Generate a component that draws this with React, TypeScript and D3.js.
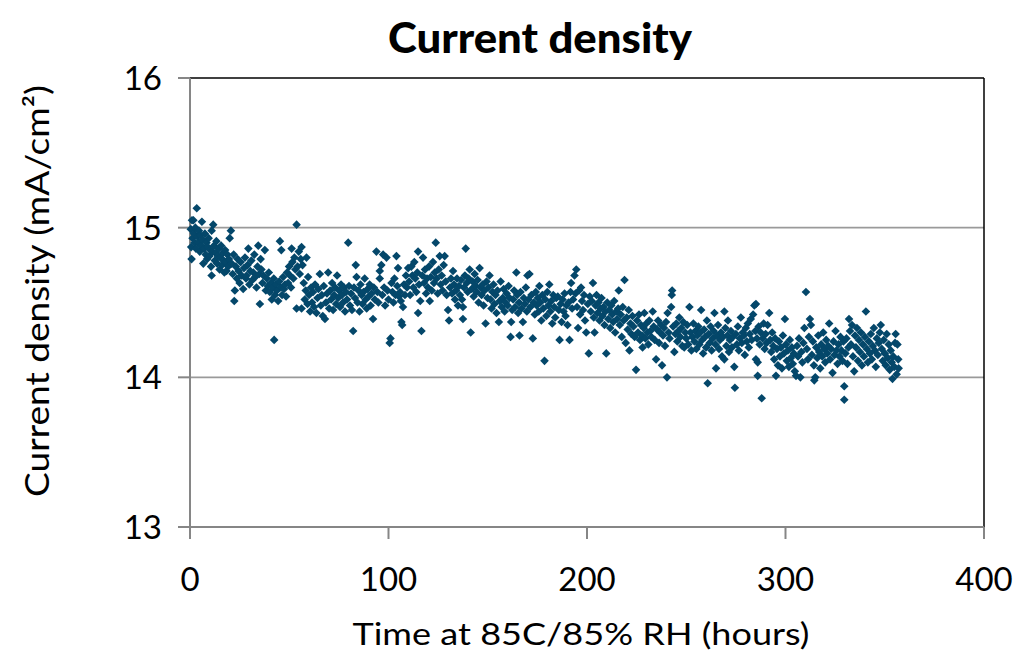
import React from "react";
import * as d3 from "d3";

// [time at 85C/85% RH (hours), current density (mA/cm²)]
const hours0to20: [number, number][] = [
  [0.4,14.99],[0.6,14.87],[0.8,14.79],[1.0,15.05],[1.3,14.93],[1.7,15.05],[2.0,14.96],[2.3,14.90],[2.7,15.00],[3.0,14.86],
  [3.4,15.13],[3.8,14.94],[4.1,14.90],[4.5,14.98],[4.9,14.84],[5.2,14.95],[5.6,14.88],[6.0,15.04],[6.4,14.92],[6.7,14.76],
  [7.1,14.86],[7.5,14.96],[7.9,14.82],[8.3,14.90],[8.6,14.79],[9.0,14.87],[9.4,14.93],[9.8,14.81],[10.2,14.85],[10.6,14.74],
  [10.9,14.98],[11.3,14.84],[11.7,15.02],[12.1,14.88],[12.5,14.78],[12.9,14.83],[13.3,14.91],[13.7,14.76],[14.1,14.81],[14.5,14.86],
  [14.9,14.72],[15.3,14.80],[15.7,14.88],[16.1,14.75],[16.5,14.83],[16.9,14.78],[17.3,14.70],[17.7,14.85],[18.1,14.77],[18.4,14.71],
  [18.8,14.82],[19.2,14.74],[19.6,14.79],[20.0,14.93],[20.6,14.98],[10.9,14.68],
];
const hours21to40: [number, number][] = [
  [21.0,14.76],[21.5,14.69],[22.0,14.82],[22.3,14.51],[22.6,14.58],[23.1,14.74],[23.6,14.66],[24.0,14.79],[24.5,14.71],[25.0,14.63],
  [25.5,14.77],[26.0,14.68],[26.8,14.59],[27.2,14.73],[27.7,14.80],[28.2,14.66],[28.5,14.68],[29.0,14.75],[29.4,14.86],[29.9,14.62],
  [30.4,14.71],[30.9,14.78],[31.4,14.65],[31.9,14.70],[32.4,14.82],[32.9,14.67],[33.5,14.60],[34.0,14.74],[34.4,14.88],[34.9,14.69],
  [35.2,14.49],[35.6,14.79],[36.0,14.72],[36.5,14.63],[37.0,14.68],[37.7,14.85],[38.2,14.58],[38.7,14.66],[39.2,14.61],[39.7,14.70],
];
const hours40to57: [number, number][] = [
  [40.2,14.57],[40.7,14.63],[41.2,14.52],[41.7,14.60],[42.2,14.66],[42.4,14.25],[42.8,14.55],[43.3,14.62],[43.8,14.58],[44.4,14.51],
  [44.9,14.64],[45.3,14.91],[45.8,14.60],[46.0,14.85],[46.4,14.55],[46.9,14.67],[47.4,14.59],[47.9,14.62],[48.4,14.54],[48.9,14.70],
  [49.4,14.63],[49.9,14.74],[50.4,14.68],[50.9,14.60],[51.2,14.86],[51.6,14.77],[52.1,14.66],[52.6,14.80],[53.1,14.72],[53.7,15.02],
  [53.7,14.46],[54.2,14.74],[54.8,14.84],[55.3,14.69],[55.8,14.79],[56.2,14.87],[56.2,14.46],[56.7,14.75],[57.3,14.63],
];
const hours57to80: [number, number][] = [
  [57.8,14.52],[58.3,14.58],[58.7,14.80],[59.2,14.49],[59.5,14.67],[60.0,14.55],[60.5,14.44],[61.0,14.60],[61.5,14.50],[62.0,14.57],
  [62.5,14.47],[63.0,14.62],[63.7,14.43],[64.2,14.53],[64.7,14.59],[65.4,14.69],[65.9,14.48],[66.4,14.55],[66.9,14.41],[67.4,14.61],
  [68.0,14.39],[68.5,14.50],[69.0,14.56],[69.6,14.70],[70.1,14.46],[70.6,14.58],[71.1,14.52],[71.6,14.63],[72.1,14.45],[72.6,14.55],
  [73.1,14.60],[73.6,14.49],[74.1,14.68],[74.6,14.53],[75.1,14.58],[75.6,14.47],[76.1,14.62],[76.6,14.55],[77.1,14.50],[77.6,14.60],
  [78.1,14.44],[78.6,14.57],[79.1,14.52],[79.7,14.90],[80.1,14.61],
];
const hours80to110: [number, number][] = [
  [80.6,14.48],[81.1,14.56],[81.6,14.45],[82.2,14.31],[82.6,14.60],[83.1,14.53],[83.5,14.75],[83.9,14.67],[84.4,14.50],[84.9,14.58],
  [85.4,14.44],[85.9,14.62],[86.4,14.55],[86.9,14.49],[87.4,14.57],[88.0,14.66],[88.5,14.52],[89.0,14.46],[89.5,14.59],[90.0,14.54],
  [90.5,14.62],[91.0,14.48],[91.5,14.56],[92.2,14.39],[92.6,14.60],[93.1,14.52],[93.9,14.84],[94.4,14.57],[94.9,14.50],[95.6,14.71],
  [95.6,14.66],[96.4,14.75],[96.9,14.55],[97.3,14.82],[97.8,14.60],[98.3,14.48],[99.0,14.80],[99.5,14.58],[100.0,14.52],[100.6,14.23],
  [101.0,14.26],[101.5,14.63],[102.0,14.57],[102.5,14.50],[103.0,14.66],[103.5,14.55],[104.0,14.81],[104.4,14.61],[104.8,14.73],[105.3,14.54],
  [105.8,14.57],[106.2,14.51],[106.5,14.37],[106.9,14.35],[107.3,14.47],[107.8,14.62],[108.3,14.55],[108.8,14.68],[109.3,14.60],[109.9,14.73],
];
const hours110to150: [number, number][] = [
  [110.4,14.64],[110.9,14.55],[111.5,14.74],[112.0,14.68],[112.5,14.60],[113.0,14.77],[113.5,14.66],[114.0,14.57],[114.5,14.70],[114.9,14.84],
  [114.9,14.43],[115.4,14.62],[116.0,14.51],[116.6,14.31],[117.0,14.68],[117.4,14.80],[117.9,14.63],[118.4,14.72],[118.9,14.56],[119.4,14.66],
  [119.9,14.60],[120.4,14.74],[120.8,14.51],[121.3,14.67],[121.8,14.58],[122.4,14.77],[122.9,14.63],[123.3,14.70],[123.8,14.90],[124.3,14.66],
  [124.8,14.56],[125.3,14.72],[125.8,14.81],[126.3,14.62],[126.8,14.68],[127.3,14.58],[127.8,14.75],[128.3,14.81],[128.8,14.64],[129.3,14.55],
  [130.0,14.45],[130.5,14.38],[131.0,14.60],[131.5,14.66],[132.0,14.56],[132.5,14.71],[133.0,14.62],[133.5,14.52],[134.0,14.58],[134.5,14.66],
  [135.0,14.48],[135.5,14.61],[136.0,14.55],[136.6,14.65],[137.0,14.52],[137.5,14.39],[137.5,14.47],[138.0,14.60],[138.5,14.68],[138.9,14.86],
  [139.4,14.63],[139.9,14.57],[140.4,14.66],[140.9,14.72],[141.4,14.30],[141.9,14.59],[142.4,14.64],[142.9,14.54],[143.4,14.69],[143.9,14.61],
  [144.4,14.57],[144.9,14.65],[145.4,14.50],[145.9,14.73],[146.4,14.60],[146.9,14.55],[147.4,14.62],[147.9,14.48],[148.4,14.58],[148.9,14.36],
  [149.4,14.64],[149.9,14.53],
];
const hours150to175: [number, number][] = [
  [150.4,14.60],[150.9,14.68],[151.4,14.52],[151.9,14.46],[152.4,14.57],[152.9,14.62],[153.4,14.49],[153.9,14.55],[154.4,14.43],[154.9,14.58],
  [155.6,14.37],[156.0,14.51],[156.5,14.64],[157.0,14.47],[157.5,14.53],[158.0,14.59],[158.5,14.44],[159.0,14.50],[159.5,14.56],[160.0,14.48],
  [160.5,14.61],[161.0,14.53],[161.5,14.27],[161.8,14.37],[162.3,14.45],[162.8,14.52],[163.3,14.58],[163.8,14.47],[164.4,14.70],[164.8,14.55],
  [165.3,14.43],[165.8,14.50],[166.0,14.28],[166.5,14.57],[167.0,14.46],[167.7,14.37],[168.2,14.53],[168.7,14.49],[169.2,14.60],[169.7,14.44],
  [170.0,14.68],[170.5,14.52],[171.0,14.69],[171.5,14.47],[172.0,14.55],[172.7,14.26],[173.2,14.50],[173.7,14.42],[174.2,14.57],[174.7,14.48],
];
const hours175to200: [number, number][] = [
  [175.2,14.53],[175.7,14.44],[176.0,14.61],[176.5,14.50],[177.0,14.38],[177.5,14.55],[178.0,14.46],[178.6,14.11],[179.0,14.52],[179.5,14.41],
  [180.0,14.57],[180.5,14.48],[181.0,14.62],[181.5,14.44],[182.0,14.51],[182.5,14.36],[183.0,14.55],[183.5,14.47],[184.0,14.40],[184.5,14.53],
  [185.3,14.54],[185.8,14.45],[186.2,14.25],[186.7,14.49],[187.2,14.37],[187.7,14.52],[188.2,14.44],[188.7,14.56],[189.2,14.41],[189.7,14.48],
  [190.2,14.35],[190.7,14.50],[191.2,14.25],[191.7,14.57],[192.0,14.63],[192.5,14.46],[193.0,14.52],[193.7,14.68],[194.2,14.56],[194.6,14.72],
  [195.0,14.47],[195.5,14.33],[196.0,14.58],[196.5,14.42],[197.0,14.60],[197.5,14.51],[198.0,14.45],[198.5,14.55],[199.0,14.38],[199.6,14.30],
];
const hours200to225: [number, number][] = [
  [200.4,14.49],[200.9,14.16],[201.4,14.54],[201.9,14.44],[202.4,14.51],[203.0,14.63],[203.4,14.40],[203.8,14.30],[204.3,14.48],[204.8,14.55],
  [205.3,14.43],[205.8,14.50],[206.3,14.38],[206.8,14.46],[207.3,14.53],[207.8,14.41],[208.3,14.47],[208.8,14.35],[209.3,14.44],[209.7,14.16],
  [210.2,14.50],[210.7,14.39],[211.2,14.45],[211.7,14.33],[212.2,14.48],[212.7,14.42],[213.2,14.37],[213.7,14.51],[214.2,14.30],[214.7,14.44],
  [215.2,14.39],[215.7,14.46],[216.0,14.58],[216.5,14.35],[217.0,14.42],[217.5,14.27],[218.0,14.47],[218.5,14.38],[218.9,14.65],[219.5,14.23],
  [220.0,14.40],[220.5,14.32],[221.0,14.45],[221.4,14.18],[221.9,14.36],[222.4,14.29],[222.9,14.41],[223.4,14.34],[224.0,14.27],[224.7,14.05],
];
const hours225to250: [number, number][] = [
  [225.2,14.38],[225.7,14.30],[226.2,14.42],[226.7,14.25],[227.2,14.35],[227.7,14.28],[228.0,14.20],[228.5,14.33],[228.9,14.43],[229.4,14.26],
  [229.9,14.36],[230.4,14.30],[230.9,14.22],[231.4,14.38],[231.9,14.31],[232.4,14.27],[233.1,14.44],[233.6,14.34],[234.1,14.25],[234.8,14.12],
  [235.3,14.32],[235.8,14.38],[236.3,14.23],[236.8,14.30],[237.3,14.35],[237.8,14.08],[238.3,14.28],[238.8,14.33],[239.3,14.21],[239.8,14.37],
  [240.3,14.00],[240.6,14.43],[241.1,14.30],[241.6,14.26],[242.4,14.47],[242.7,14.55],[242.9,14.58],[243.4,14.34],[244.0,14.17],[244.5,14.29],
  [245.0,14.36],[245.5,14.24],[246.0,14.31],[246.5,14.40],[247.0,14.27],[247.5,14.33],[248.0,14.21],[248.5,14.37],[249.0,14.20],[249.5,14.30],
];
const hours250to290: [number, number][] = [
  [250.0,14.26],[250.5,14.35],[251.0,14.22],[251.6,14.47],[252.1,14.30],[252.6,14.18],[253.1,14.27],[253.6,14.36],[254.1,14.24],[254.6,14.31],
  [255.1,14.19],[255.6,14.28],[256.1,14.34],[256.6,14.22],[257.1,14.30],[257.5,14.45],[258.0,14.25],[258.5,14.16],[259.0,14.32],[259.5,14.27],
  [260.0,14.20],[260.4,14.38],[260.8,13.96],[261.3,14.29],[261.8,14.23],[262.3,14.34],[262.8,14.18],[263.3,14.26],[263.8,14.31],[264.2,14.43],
  [264.7,14.22],[265.0,14.06],[265.5,14.28],[266.0,14.35],[266.5,14.19],[267.0,14.25],[267.5,14.30],[268.0,14.14],[268.5,14.27],[269.2,14.44],
  [269.2,14.12],[269.7,14.33],[270.2,14.21],[270.7,14.28],[271.0,14.38],[271.5,14.17],[272.0,14.25],[272.5,14.31],[273.0,14.20],[273.5,14.27],
  [274.2,14.07],[274.5,13.93],[275.0,14.29],[275.5,14.22],[276.0,14.34],[276.5,14.18],[277.0,14.26],[277.5,14.40],[278.0,14.23],[278.5,14.30],
  [279.0,14.28],[279.5,14.15],[280.0,14.33],[280.5,14.24],[281.0,14.36],[281.5,14.20],[282.0,14.29],[282.5,14.39],[283.0,14.25],[283.7,14.42],
  [284.3,14.48],[284.8,14.31],[285.1,14.12],[285.1,14.49],[285.6,14.26],[286.0,14.10],[286.0,14.01],[286.5,14.34],[287.0,14.22],[287.5,14.30],
  [288.0,13.86],[288.5,14.26],[289.0,14.36],[289.5,14.19],
];
const hours290to330: [number, number][] = [
  [290.0,14.29],[290.5,14.23],[291.0,14.35],[291.8,14.43],[292.3,14.25],[292.8,14.17],[293.3,14.30],[293.8,14.21],[294.3,14.12],[294.8,14.26],
  [295.2,14.01],[295.7,14.19],[296.2,14.08],[296.7,14.24],[297.2,14.14],[297.7,14.20],[298.2,14.06],[298.7,14.28],[299.2,14.16],[299.7,14.39],
  [300.2,14.22],[300.7,14.11],[301.2,14.18],[301.7,14.07],[302.2,14.25],[302.7,14.13],[303.2,14.20],[303.7,14.09],[304.2,14.16],[304.7,14.04],
  [305.3,14.01],[305.8,14.21],[306.3,14.14],[306.8,14.26],[307.5,14.00],[308.0,14.17],[308.5,14.10],[309.0,14.23],[309.5,14.33],[310.3,14.57],
  [310.8,14.19],[311.3,14.12],[311.8,14.27],[312.3,14.39],[312.8,14.35],[313.3,14.15],[313.8,14.24],[314.3,14.08],[314.5,13.98],[315.0,14.00],
  [315.5,14.20],[316.0,14.13],[316.5,14.28],[317.0,14.17],[317.5,14.06],[318.0,14.22],[318.5,14.14],[319.0,14.30],[319.5,14.19],[320.0,14.10],
  [320.5,14.25],[321.0,14.16],[321.5,14.21],[322.0,14.36],[322.5,14.12],[323.0,14.19],[323.7,14.03],[324.2,14.24],[324.7,14.15],[325.2,14.31],
  [325.7,14.18],[326.2,14.09],[326.7,14.22],[327.2,14.14],[327.7,14.27],[328.2,14.18],[328.7,14.11],[329.2,14.24],[329.6,13.94],[329.6,13.85],
];
const hours330to357: [number, number][] = [
  [330.2,14.16],[330.7,14.26],[331.2,14.09],[331.7,14.20],[332.0,14.39],[332.5,14.31],[333.0,14.22],[333.5,14.35],[334.0,14.14],[334.6,14.04],
  [335.0,14.28],[335.5,14.20],[336.0,14.33],[336.5,14.11],[337.0,14.25],[337.5,14.17],[338.0,14.30],[338.5,14.08],[339.0,14.22],[339.5,14.14],
  [340.0,14.27],[340.5,14.44],[341.0,14.19],[341.5,14.10],[342.0,14.24],[342.5,14.16],[343.0,14.29],[343.5,14.12],[344.0,14.21],[344.5,14.33],
  [345.0,14.18],[345.5,14.07],[346.0,14.26],[346.5,14.15],[347.0,14.23],[347.5,14.30],[348.0,14.35],[348.5,14.19],[349.0,14.11],[349.5,14.25],
  [350.0,14.16],[350.5,14.08],[351.0,14.29],[351.5,14.13],[352.0,14.22],[352.5,14.05],[353.0,14.18],[353.5,14.10],[353.9,13.99],[354.3,14.14],
  [354.8,14.07],[355.2,14.23],[355.5,14.29],[356.0,14.02],[356.4,14.22],[356.8,14.12],[357.0,14.06],
];

const xTicks = [0, 100, 200, 300, 400];
const yTicks = [13, 14, 15, 16];
const gridValues = [14, 15];

const TITLE = "Current density";
const X_TITLE = "Time at 85C/85% RH (hours)";
const Y_TITLE = "Current density (mA/cm²)";

const FONT = "Lato, 'Open Sans', 'DejaVu Sans', sans-serif";

export default function App() {
  const data = [
    ...hours0to20, ...hours21to40, ...hours40to57, ...hours57to80, ...hours80to110,
    ...hours110to150, ...hours150to175, ...hours175to200, ...hours200to225,
    ...hours225to250, ...hours250to290, ...hours290to330, ...hours330to357,
  ];
  const W = 1020, H = 654;
  const left = 190, right = 984, top = 78, bottom = 527;
  const x = d3.scaleLinear().domain([0, 400]).range([left, right]);
  const y = d3.scaleLinear().domain([13, 16]).range([bottom, top]);
  const r = 4.3;
  const diamond = `M0,${-r}L${r},0L0,${r}L${-r},0Z`;
  const axisColor = "#868686";

  return (
    <svg width={W} height={H} style={{ position: "absolute", left: 0, top: 0, background: "#fff" }}>
      <rect x={0} y={0} width={W} height={H} fill="#fff" />
      {/* gridlines */}
      {gridValues.map((v) => (
        <line key={v} x1={left} x2={right} y1={y(v)} y2={y(v)} stroke="#9a9a9a" strokeWidth={1.8} />
      ))}
      {/* plot border (top & right) */}
      <line x1={left} x2={right} y1={top} y2={top} stroke="#000" strokeWidth={1.5} />
      <line x1={right} x2={right} y1={top} y2={bottom} stroke="#000" strokeWidth={1.5} />
      {/* axes */}
      <line x1={left} x2={left} y1={top} y2={bottom} stroke={axisColor} strokeWidth={2} />
      <line x1={left} x2={right} y1={bottom} y2={bottom} stroke={axisColor} strokeWidth={2} />
      {yTicks.map((t) => (
        <line key={"yt" + t} x1={left - 12} x2={left} y1={y(t)} y2={y(t)} stroke={axisColor} strokeWidth={2} />
      ))}
      {xTicks.map((t) => (
        <line key={"xt" + t} x1={x(t)} x2={x(t)} y1={bottom} y2={bottom + 12} stroke={axisColor} strokeWidth={2} />
      ))}
      {/* points */}
      <g fill="#04476a">
        {data.map((d, i) => (
          <path key={i} d={diamond} transform={`translate(${x(d[0])},${y(d[1])})`} />
        ))}
      </g>
      {/* tick labels */}
      {yTicks.map((t) => (
        <text key={"yl" + t} x={162} y={y(t)} dy="0.36em" textAnchor="end" fontFamily={FONT} fontSize={33} fill="#000">
          {t}
        </text>
      ))}
      {xTicks.map((t) => (
        <text key={"xl" + t} x={x(t)} y={591} textAnchor="middle" fontFamily={FONT} fontSize={33} fill="#000">
          {t}
        </text>
      ))}
      {/* titles */}
      <text x={540} y={53} textAnchor="middle" fontFamily={FONT} fontWeight={900} fontSize={42}
        textLength={304} lengthAdjust="spacingAndGlyphs" fill="#000">
        {TITLE}
      </text>
      <text x={581} y={645} textAnchor="middle" fontFamily={FONT} fontSize={31}
        textLength={457} lengthAdjust="spacingAndGlyphs" fill="#000">
        {X_TITLE}
      </text>
      <text transform="translate(49,291) rotate(-90)" textAnchor="middle" fontFamily={FONT} fontSize={33}
        textLength={412} lengthAdjust="spacingAndGlyphs" fill="#000">
        {Y_TITLE}
      </text>
    </svg>
  );
}
